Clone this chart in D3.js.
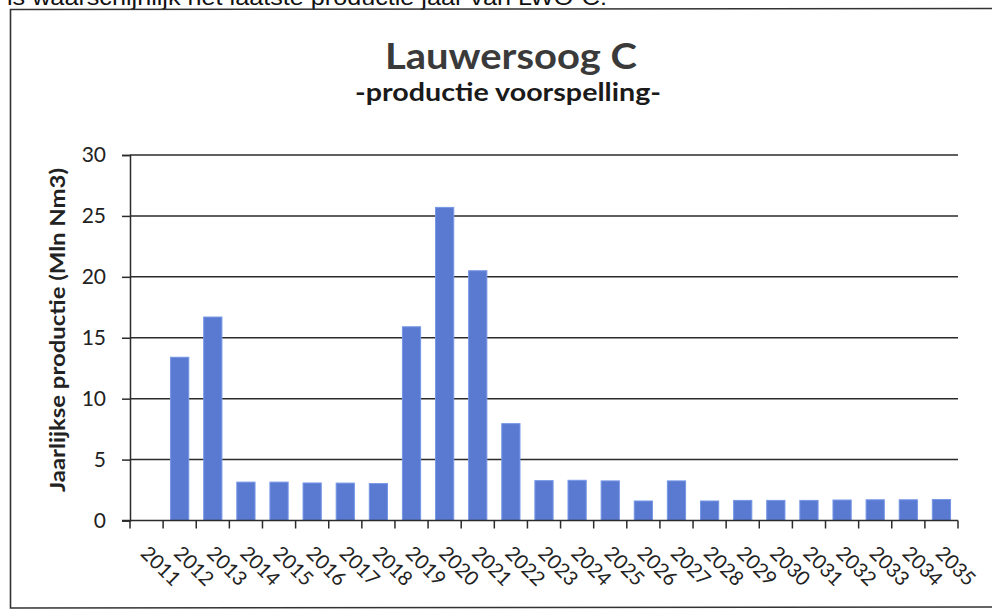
<!DOCTYPE html>
<html>
<head>
<meta charset="utf-8">
<script src="https://cdn.jsdelivr.net/npm/d3@7"></script>
<style>
  body { margin: 0; background: #fff; }
  svg { display: block; }
</style>
</head>
<body>
<svg id="chart" width="992" height="610"></svg>
<script>
const years = ["2011", "2012", "2013", "2014", "2015", "2016", "2017", "2018", "2019", "2020",
    "2021", "2022", "2023", "2024", "2025", "2026", "2027", "2028", "2029", "2030",
    "2031", "2032", "2033", "2034", "2035"];
const production = [0, 13.4, 16.7, 3.15, 3.15, 3.08, 3.07, 3.03, 15.9, 25.7,
    20.5, 7.95, 3.27, 3.3, 3.25, 1.6, 3.25, 1.6, 1.65, 1.65,
    1.65, 1.68, 1.7, 1.7, 1.72];
const yTicks = [0, 5, 10, 15, 20, 25, 30];

const headerText = "is waarschijnlijk het laatste productie jaar van LWO-C.";
const titleText = "Lauwersoog C";
const subtitleText = "-productie voorspelling-";
const yTitle = "Jaarlijkse productie (Mln Nm3)";

const calibri = "Lato, 'Open Sans', sans-serif";
const margin = { top: 155, right: 34, bottom: 89.5, left: 130 };
const width = 992 - margin.left - margin.right;
const height = 610 - margin.top - margin.bottom;

const svg = d3.select("#chart");

// text cut off at the top of the scanned page
svg.append("text")
    .attr("x", 7)
    .attr("y", 5)
    .attr("font-family", "'Liberation Sans', Arial, sans-serif")
    .attr("font-size", 22)
    .attr("fill", "#111")
    .attr("textLength", 600)
    .attr("lengthAdjust", "spacingAndGlyphs")
    .text(headerText);

// chart frame
svg.append("path")
    .attr("d", "M992,8.5 L10.5,9.5 L10.5,608 L992,607")
    .attr("fill", "none")
    .attr("stroke", "#333")
    .attr("stroke-width", 1.6);

svg.append("text")
    .attr("x", 511)
    .attr("y", 69)
    .attr("text-anchor", "middle")
    .attr("font-family", calibri)
    .attr("font-weight", "bold")
    .attr("font-size", 36)
    .attr("fill", "#3a3a3a")
    .attr("textLength", 252)
    .attr("lengthAdjust", "spacingAndGlyphs")
    .text(titleText);

svg.append("text")
    .attr("x", 508)
    .attr("y", 101)
    .attr("text-anchor", "middle")
    .attr("font-family", calibri)
    .attr("font-weight", "bold")
    .attr("font-size", 24)
    .attr("fill", "#1a1a1a")
    .attr("textLength", 306)
    .attr("lengthAdjust", "spacingAndGlyphs")
    .text(subtitleText);

const g = svg.append("g")
    .attr("transform", "translate(" + margin.left + "," + margin.top + ")");

const x = d3.scaleBand()
    .domain(years)
    .range([0, width])
    .paddingInner(0.45)
    .paddingOuter(0.225);

const slot = d3.scaleBand()
    .domain(years)
    .range([0, width]);

const y = d3.scaleLinear()
    .domain([0, 30])
    .range([height, 0]);

// gridlines
g.append("g")
    .selectAll("line")
    .data(yTicks.filter(d => d > 0))
    .enter().append("line")
    .attr("x1", 0)
    .attr("x2", width)
    .attr("y1", d => y(d))
    .attr("y2", d => y(d))
    .attr("stroke", "#2b2b2b")
    .attr("stroke-width", 1.5);

// bars
g.selectAll(".bar")
    .data(years.map((d, i) => ({ year: d, value: production[i] })).filter(d => d.value > 0))
    .enter().append("rect")
    .attr("class", "bar")
    .attr("x", d => x(d.year))
    .attr("y", d => y(d.value))
    .attr("width", x.bandwidth())
    .attr("height", d => height - y(d.value))
    .attr("fill", "#5a7ad2")
    .attr("stroke", "#7596e6")
    .attr("stroke-width", 1);

// y axis
const yAxis = g.append("g")
    .call(d3.axisLeft(y).tickValues(yTicks).tickSize(8).tickPadding(16));
yAxis.select(".domain").attr("stroke", "#2b2b2b").attr("stroke-width", 1.5);
yAxis.selectAll(".tick line").attr("stroke", "#2b2b2b").attr("stroke-width", 1.5);
yAxis.selectAll("text")
    .attr("font-family", calibri)
    .attr("font-size", 21)
    .attr("fill", "#222");

// x axis: ticks sit between the categories
const xAxis = g.append("g")
    .attr("transform", "translate(0," + height + ")");
xAxis.append("line")
    .attr("x1", -8)
    .attr("x2", width)
    .attr("stroke", "#2b2b2b")
    .attr("stroke-width", 1.5);
xAxis.selectAll(".xtick")
    .data(years.map(d => slot(d)).concat([width]))
    .enter().append("line")
    .attr("class", "xtick")
    .attr("x1", d => d)
    .attr("x2", d => d)
    .attr("y1", 0)
    .attr("y2", 8)
    .attr("stroke", "#2b2b2b")
    .attr("stroke-width", 1.5);
xAxis.selectAll(".xlabel")
    .data(years)
    .enter().append("text")
    .attr("class", "xlabel")
    .attr("transform", d => "translate(" + (slot(d) + slot.bandwidth() / 2 - 7) + ",34) rotate(45)")
    .attr("font-family", calibri)
    .attr("font-size", 20)
    .attr("fill", "#222")
    .text(d => d);

// y axis title
svg.append("text")
    .attr("transform", "translate(65,330) rotate(-90)")
    .attr("text-anchor", "middle")
    .attr("font-family", calibri)
    .attr("font-weight", "bold")
    .attr("font-size", 20)
    .attr("fill", "#222")
    .attr("textLength", 324)
    .attr("lengthAdjust", "spacingAndGlyphs")
    .text(yTitle);
</script>
</body>
</html>
